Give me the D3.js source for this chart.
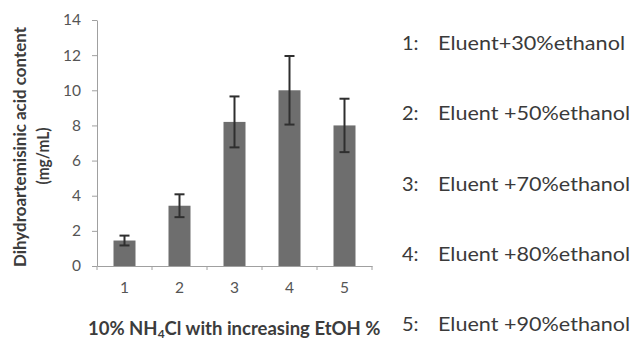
<!DOCTYPE html>
<html>
<head>
<meta charset="utf-8">
<script src="https://cdn.jsdelivr.net/npm/d3@7/dist/d3.min.js"></script>
<style>
  html, body { margin: 0; padding: 0; background: #ffffff; }
  svg { display: block; }
  text { font-family: Lato, "Open Sans", sans-serif; }
</style>
</head>
<body>
<svg id="chart" width="634" height="341"></svg>
<script>
// Dihydroartemisinic acid recovered with each eluent
const categories = ["1", "2", "3", "4", "5"];
const contents = [1.45, 3.43, 8.2, 10.0, 8.0];      // mg/mL
const errors = [0.28, 0.65, 1.45, 1.95, 1.52];      // ± error
const yTicks = [0, 2, 4, 6, 8, 10, 12, 14];
const legendLabels = [
  "Eluent+30%ethanol",
  "Eluent +50%ethanol",
  "Eluent +70%ethanol",
  "Eluent +80%ethanol",
  "Eluent +90%ethanol"
];
const yTitle = ["Dihydroartemisinic acid content", "(mg/mL)"];
const xTitle = ["10% NH", "4", "Cl with increasing EtOH %"];

const svg = d3.select("#chart");

const plot = { left: 97, right: 372, top: 20, bottom: 266 };

const x = d3.scaleBand()
  .domain(categories)
  .range([plot.left, plot.right])
  .paddingInner(0.6)
  .paddingOuter(0.3);

const y = d3.scaleLinear()
  .domain([0, 14])
  .range([plot.bottom, plot.top]);

const axisColor = "#a0a0a0";
const labelColor = "#555555";

// y axis
const gy = svg.append("g")
  .attr("transform", `translate(${plot.left},0)`)
  .call(d3.axisLeft(y).tickValues(yTicks).tickSize(5).tickPadding(11).tickSizeOuter(0));
gy.select(".domain").attr("stroke", axisColor);
gy.selectAll(".tick line").attr("stroke", axisColor);
gy.selectAll(".tick text")
  .attr("fill", labelColor)
  .style("font-family", "Lato, sans-serif")
  .style("font-size", "15.5px");

// x axis: labels centred under the bars, tick marks between categories
const gx = svg.append("g")
  .attr("transform", `translate(0,${plot.bottom})`)
  .call(d3.axisBottom(x).tickSize(0).tickPadding(16));
gx.select(".domain").attr("stroke", axisColor);
gx.selectAll(".tick text")
  .attr("fill", labelColor)
  .style("font-family", "Lato, sans-serif")
  .style("font-size", "15.5px");

const step = x.step();
const boundaries = [plot.left].concat(
  categories.map(c => x(c) + x.bandwidth() + step * x.paddingInner() / 2)
);
gx.selectAll(".sep")
  .data(boundaries)
  .join("line")
  .attr("class", "sep")
  .attr("x1", d => d).attr("x2", d => d)
  .attr("y1", 0).attr("y2", 4)
  .attr("stroke", axisColor);

// bars
const bars = categories.map((c, i) => ({ c, v: contents[i], e: errors[i] }));

svg.append("g")
  .selectAll("rect")
  .data(bars)
  .join("rect")
  .attr("x", d => x(d.c))
  .attr("width", x.bandwidth())
  .attr("y", d => y(d.v))
  .attr("height", d => y(0) - y(d.v))
  .attr("fill", "#6e6e6e");

// error bars
const capHalf = 5;
const eb = svg.append("g")
  .attr("stroke", "#2f2f2f")
  .attr("stroke-width", 2);

eb.selectAll(".stem")
  .data(bars)
  .join("line")
  .attr("class", "stem")
  .attr("x1", d => x(d.c) + x.bandwidth() / 2)
  .attr("x2", d => x(d.c) + x.bandwidth() / 2)
  .attr("y1", d => y(d.v + d.e))
  .attr("y2", d => y(d.v - d.e));

eb.selectAll(".capTop")
  .data(bars)
  .join("line")
  .attr("class", "capTop")
  .attr("x1", d => x(d.c) + x.bandwidth() / 2 - capHalf)
  .attr("x2", d => x(d.c) + x.bandwidth() / 2 + capHalf)
  .attr("y1", d => y(d.v + d.e))
  .attr("y2", d => y(d.v + d.e));

eb.selectAll(".capBottom")
  .data(bars)
  .join("line")
  .attr("class", "capBottom")
  .attr("x1", d => x(d.c) + x.bandwidth() / 2 - capHalf)
  .attr("x2", d => x(d.c) + x.bandwidth() / 2 + capHalf)
  .attr("y1", d => y(d.v - d.e))
  .attr("y2", d => y(d.v - d.e));

// y axis title (two lines, rotated)
const titleColor = "#3c3c3c";
svg.append("text")
  .attr("transform", "translate(26,147) rotate(-90)")
  .attr("text-anchor", "middle")
  .attr("fill", titleColor)
  .style("font-weight", "bold")
  .style("font-size", "17px")
  .attr("textLength", 240)
  .attr("lengthAdjust", "spacingAndGlyphs")
  .text(yTitle[0]);

svg.append("text")
  .attr("transform", "translate(49,156) rotate(-90)")
  .attr("text-anchor", "middle")
  .attr("fill", titleColor)
  .style("font-weight", "bold")
  .style("font-size", "17px")
  .attr("textLength", 57)
  .attr("lengthAdjust", "spacingAndGlyphs")
  .text(yTitle[1]);

// x axis title with subscript
const xt = svg.append("text")
  .attr("x", 88)
  .attr("y", 335)
  .attr("fill", titleColor)
  .style("font-weight", "bold")
  .style("font-size", "18.5px");
xt.append("tspan").text(xTitle[0]);
xt.append("tspan").attr("dy", 3).style("font-size", "12px").text(xTitle[1]);
xt.append("tspan").attr("dy", -3).text(xTitle[2]);

// legend
const legend = svg.append("g")
  .selectAll("text")
  .data(legendLabels)
  .join("text")
  .attr("y", (d, i) => 50 + i * 70.25)
  .attr("fill", "#3a3a3a")
  .style("font-size", "20px");

legend.append("tspan")
  .attr("x", 402)
  .text((d, i) => categories[i] + ":");

legend.append("tspan")
  .attr("x", 438)
  .attr("textLength", (d, i) => i === 0 ? 187 : 192)
  .attr("lengthAdjust", "spacingAndGlyphs")
  .text(d => d);
</script>
</body>
</html>
